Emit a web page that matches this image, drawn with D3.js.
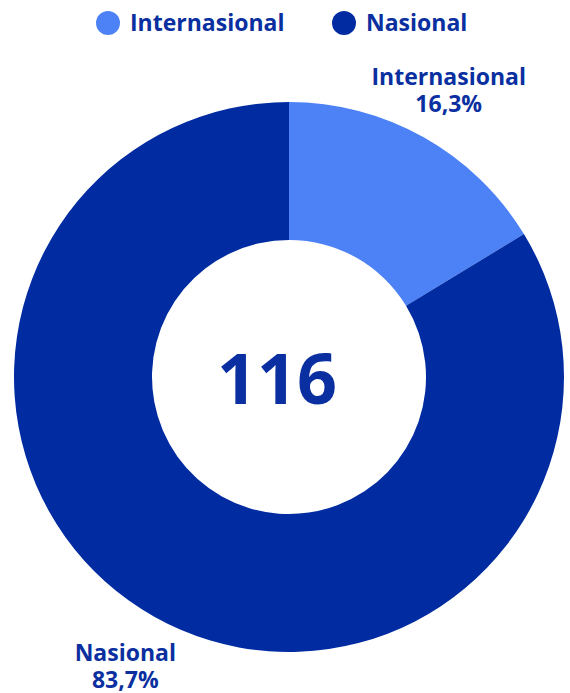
<!DOCTYPE html>
<html>
<head>
<meta charset="utf-8">
<script src="https://cdn.jsdelivr.net/npm/d3@7"></script>
<style>
  body { margin: 0; background: #fff; }
  svg { display: block; font-family: "Open Sans", "DejaVu Sans", sans-serif; }
</style>
</head>
<body>
<svg id="chart"></svg>
<script>
// data
const categories = ["Internasional", "Nasional"];
const values = [16.3, 83.7];
const colors = ["#4d82f7", "#002ba1"];
const total = 116;

const width = 570, height = 693;
const cx = 289, cy = 377;
const outerR = 275, innerR = 137;
const textColor = "#0a2fa0";

const svg = d3.select("#chart").attr("width", width).attr("height", height);

const color = d3.scaleOrdinal().domain(categories).range(colors);

const data = categories.map((c, i) => ({ key: c, value: values[i] }));

// pie starts at 12 o'clock, clockwise, no sorting
const pie = d3.pie().sort(null).value(d => d.value);
const arc = d3.arc().innerRadius(innerR).outerRadius(outerR);
const labelArc = d3.arc().innerRadius(330).outerRadius(330);

const g = svg.append("g").attr("transform", `translate(${cx},${cy})`);

const arcs = pie(data);

g.selectAll("path")
  .data(arcs)
  .join("path")
  .attr("d", arc)
  .attr("fill", d => color(d.data.key));

// center total
g.append("text")
  .attr("text-anchor", "middle")
  .attr("x", -12)
  .attr("y", 27)
  .attr("fill", textColor)
  .style("font-size", "70px")
  .style("font-weight", "bold")
  .text(total);

// slice labels
const fmt = v => d3.format(".1f")(v).replace(".", ",") + "%";
const labels = g.selectAll("text.slice-label")
  .data(arcs)
  .join("text")
  .attr("class", "slice-label")
  .attr("text-anchor", "middle")
  .attr("fill", textColor)
  .style("font-size", "23px")
  .style("font-weight", "bold")
  .attr("transform", d => {
    const [x, y] = labelArc.centroid(d);
    return `translate(${x - 2},${y})`;
  });
labels.append("tspan").attr("x", 0).attr("y", -4).text(d => d.data.key);
labels.append("tspan").attr("x", 0).attr("y", 23).text(d => fmt(d.data.value));

// legend
const legendX = [108, 344];
const legend = svg.append("g").selectAll("g")
  .data(categories)
  .join("g")
  .attr("transform", (d, i) => `translate(${legendX[i]},23)`);
legend.append("circle").attr("r", 12).attr("fill", d => color(d));
legend.append("text")
  .attr("x", 22)
  .attr("y", 8)
  .attr("fill", textColor)
  .style("font-size", "23px")
  .style("font-weight", "bold")
  .text(d => d);
</script>
</body>
</html>
